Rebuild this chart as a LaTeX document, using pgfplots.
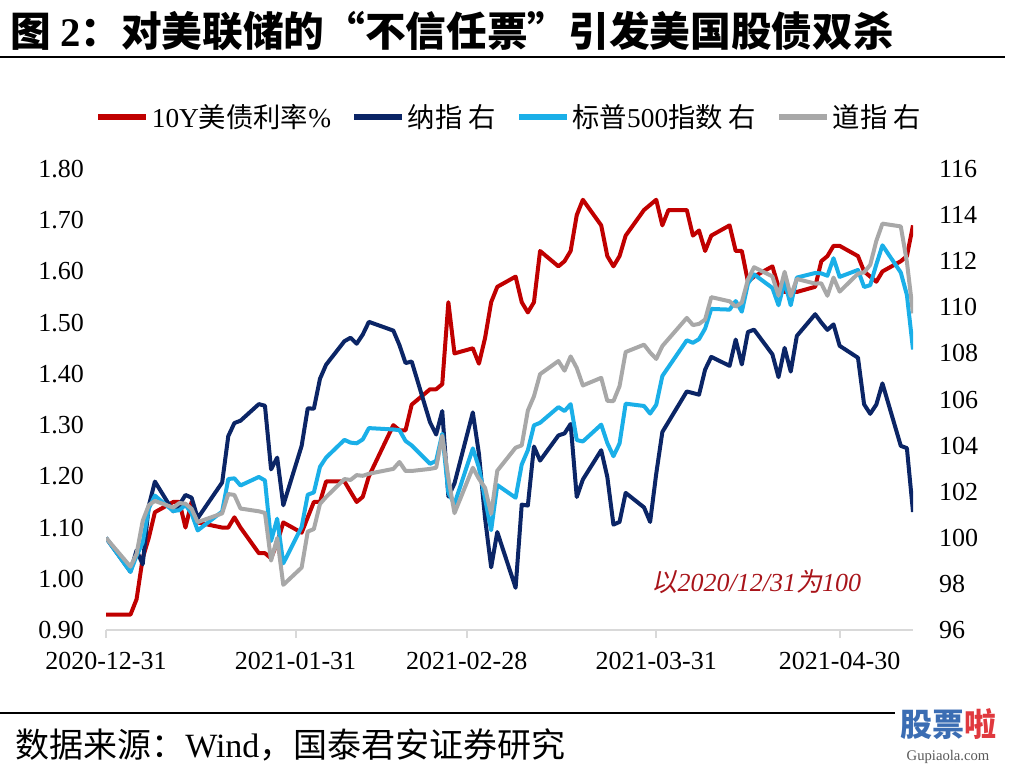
\documentclass[border=0pt]{standalone}
\usepackage{pgfplots}
\pgfplotsset{compat=1.18}
\usepackage{pgfplotstable}
\usepackage{fontspec}
\setmainfont{Liberation Serif}
\newfontfamily\cjk{Noto Sans CJK SC}
\newfontfamily\cjksl{Noto Sans CJK SC}[FakeSlant=0.2]
\definecolor{cRed}{HTML}{C00000}
\definecolor{cNavy}{HTML}{0B2566}
\definecolor{cBlue}{HTML}{1AAFE8}
\definecolor{cGray}{HTML}{A8A8A8}
\definecolor{cAxis}{HTML}{D9D9D9}
\definecolor{cNote}{HTML}{A8141A}

% day offset from 2020-12-31
\pgfplotstableread{
d v
0 0.93
4 0.93
5 0.96
6 1.04
7 1.08
8 1.13
11 1.15
12 1.15
13 1.10
14 1.15
15 1.11
19 1.10
20 1.10
21 1.12
22 1.10
25 1.05
26 1.05
27 1.04
28 1.07
29 1.11
32 1.09
33 1.12
34 1.15
35 1.15
36 1.19
39 1.19
40 1.17
41 1.15
42 1.16
43 1.20
47 1.30
48 1.29
49 1.29
50 1.34
53 1.37
54 1.37
55 1.38
56 1.54
57 1.44
60 1.45
61 1.42
62 1.47
63 1.54
64 1.57
67 1.59
68 1.54
69 1.52
70 1.54
71 1.64
74 1.61
75 1.62
76 1.64
77 1.71
78 1.74
81 1.69
82 1.63
83 1.61
84 1.63
85 1.67
88 1.72
89 1.73
90 1.74
91 1.69
92 1.72
95 1.72
96 1.67
97 1.68
98 1.64
99 1.67
102 1.69
103 1.64
104 1.64
105 1.58
106 1.59
109 1.61
110 1.57
111 1.56
112 1.56
113 1.56
116 1.57
117 1.62
118 1.63
119 1.65
120 1.65
123 1.63
124 1.60
125 1.59
126 1.58
127 1.60
130 1.62
131 1.63
132 1.69
}\tenY

\pgfplotstableread{
d v
0 100
4 98.53
5 99.46
6 98.85
7 101.39
8 102.44
11 101.15
12 101.43
13 101.86
14 101.74
15 100.85
19 102.40
20 104.41
21 104.98
22 105.08
25 105.80
26 105.73
27 102.97
28 103.48
29 101.41
32 103.99
33 105.62
34 105.60
35 106.90
36 107.51
39 108.53
40 108.68
41 108.42
42 108.82
43 109.37
47 108.99
48 108.36
49 107.58
50 107.65
53 105.01
54 104.48
55 105.50
56 101.79
57 102.36
60 105.44
61 103.65
62 100.85
63 98.72
64 100.25
67 97.83
68 101.44
69 101.40
70 103.96
71 103.35
74 104.44
75 104.53
76 104.94
77 101.77
78 102.53
81 103.80
82 102.64
83 100.57
84 100.69
85 101.95
88 101.32
89 100.69
90 102.78
91 104.59
95 106.35
96 106.28
97 106.21
98 107.30
99 107.85
102 107.46
103 108.60
104 107.52
105 108.93
106 109.03
109 107.96
110 106.97
111 108.24
112 107.21
113 108.76
116 109.70
117 109.34
118 109.02
119 109.26
120 108.33
123 107.81
124 105.79
125 105.38
126 105.78
127 106.70
130 103.99
131 103.89
132 101.12
}\nasdaq

\pgfplotstableread{
d v
0 100
4 98.52
5 99.22
6 99.79
7 101.27
8 101.83
11 101.16
12 101.20
13 101.43
14 101.05
15 100.32
19 101.14
20 102.55
21 102.58
22 102.27
25 102.64
26 102.49
27 99.86
28 100.83
29 98.89
32 100.47
33 101.87
34 101.97
35 103.08
36 103.48
39 104.25
40 104.13
41 104.10
42 104.27
43 104.76
47 104.70
48 104.67
49 104.20
50 104.01
53 103.21
54 103.34
55 104.51
56 101.95
57 101.47
60 103.88
61 103.04
62 101.69
63 100.33
64 102.29
67 101.74
68 103.18
69 103.80
70 104.88
71 104.99
74 105.67
75 105.50
76 105.80
77 104.24
78 104.18
81 104.91
82 104.11
83 103.54
84 104.09
85 105.82
88 105.72
89 105.39
90 105.77
91 107.02
95 108.57
96 108.46
97 108.62
98 109.08
99 109.93
102 109.90
103 110.27
104 109.81
105 111.03
106 111.43
109 110.84
110 110.09
111 111.11
112 110.09
113 111.29
116 111.49
117 111.47
118 111.37
119 112.13
120 111.32
123 111.62
124 110.88
125 110.96
126 111.86
127 112.69
130 111.51
131 110.54
132 108.17
}\spx

\pgfplotstableread{
d v
0 100
4 98.75
5 99.30
6 100.73
7 101.42
8 101.60
11 101.31
12 101.51
13 101.48
14 101.26
15 100.68
19 101.06
20 101.90
21 101.86
22 101.27
25 101.15
26 101.08
27 99.01
28 99.99
29 97.96
32 98.71
33 100.27
34 100.38
35 101.47
36 101.77
39 102.55
40 102.51
41 102.72
42 102.69
43 102.78
47 102.99
48 103.29
49 102.90
50 102.90
53 102.99
54 103.04
55 104.43
56 102.60
57 101.07
60 103.04
61 102.56
62 102.17
63 101.04
64 102.91
67 103.91
68 104.01
69 105.52
70 106.14
71 107.10
74 107.67
75 107.25
76 107.87
77 107.37
78 106.61
81 106.94
82 105.94
83 105.93
84 106.58
85 108.06
88 108.38
89 108.04
90 107.76
91 108.32
95 109.54
96 109.23
97 109.28
98 109.47
99 110.44
102 110.26
103 110.03
104 110.21
105 111.21
106 111.74
109 111.34
110 110.51
111 111.54
112 110.49
113 111.23
116 111.03
117 111.04
118 110.50
119 111.29
120 110.68
123 111.46
124 111.52
125 111.84
126 112.88
127 113.63
130 113.51
131 111.97
132 109.74
}\dow

\pgfplotsset{
  common/.style={
    at={(79.5pt,-472.5pt)}, anchor=south west,
    scale only axis, width=605.25pt, height=345.75pt,
    xmin=0, xmax=132,
    tick label style={font=\fontsize{19.5pt}{21pt}\selectfont},
    /pgf/number format/assume math mode=true,
    tick align=outside, major tick length=6pt,
    every axis plot/.append style={line width=3pt, line join=round, no markers},
  },
}

\begin{document}
\begin{tikzpicture}
\path[use as bounding box] (0,0) rectangle (759.75pt,-576.75pt);

% title
\node[anchor=west, inner sep=0pt] at (7.5pt,-23.5pt)
  {\fontsize{30.5pt}{32pt}\selectfont\cjk\bfseries 图 {\rmfamily\bfseries 2}：对美联储的“不信任票”引发美国股债双杀};
\draw[line width=2pt] (0pt,-42.75pt) -- (753.75pt,-42.75pt);

\begin{axis}[common,
  ymin=0.9, ymax=1.8,
  axis x line*=bottom, axis y line*=left,
  x axis line style={draw=cAxis, line width=1.5pt, -},
  y axis line style={draw=none},
  xtick={0,31,59,90,120},
  xticklabels={2020-12-31,2021-01-31,2021-02-28,2021-03-31,2021-04-30},
  x tick style={draw=cAxis, line width=1.5pt},
  xticklabel style={yshift=-7pt},
  ytick={0.9,1.0,1.1,1.2,1.3,1.4,1.5,1.6,1.7,1.8},
  y tick style={draw=none},
  yticklabel style={/pgf/number format/.cd, fixed, fixed zerofill, precision=2, /tikz/.cd, xshift=-7pt},
]
\addplot[cRed] table[x=d, y=v] {\tenY};
\end{axis}

\begin{axis}[common,
  ymin=96, ymax=116,
  axis x line=none, axis y line*=right,
  y axis line style={draw=none},
  ytick={96,98,100,102,104,106,108,110,112,114,116},
  y tick style={draw=none},
  yticklabel style={xshift=10pt},
  legend style={at={(0.5,1)}, anchor=center, yshift=39pt, draw=none, fill=none,
    font=\fontsize{20.5pt}{22pt}\selectfont,
    /tikz/every even column/.append style={column sep=13pt}},
  legend columns=-1,
  legend image code/.code={\draw[#1, line width=4.5pt] (0pt,0pt) -- (36pt,0pt);},
]
\addlegendimage{cRed, line width=3pt}
\addlegendentry{10Y{\cjk 美债利率}\%}
\addplot[cNavy] table[x=d, y=v] {\nasdaq};
\addlegendentry{{\cjk 纳指 右}}
\addplot[cBlue] table[x=d, y=v] {\spx};
\addlegendentry{{\cjk 标普}500{\cjk 指数 右}}
\addplot[cGray] table[x=d, y=v] {\dow};
\addlegendentry{{\cjk 道指 右}}
\node[anchor=west, inner sep=0pt, text=cNote, font=\fontsize{19.5pt}{21pt}\selectfont]
  at (axis cs:89.2,98.08) {{\cjksl 以}{\itshape 2020/12/31}{\cjksl 为}{\itshape 100}};
\end{axis}

% footer
\draw[line width=2pt] (0pt,-534.75pt) -- (671.25pt,-534.75pt);
\node[anchor=west, inner sep=0pt] at (11.25pt,-559pt)
  {\fontsize{25.5pt}{27pt}\selectfont{\cjk 数据来源：}Wind{\cjk ，国泰君安证券研究}};
\node[inner sep=0pt] at (711pt,-543pt)
  {\fontsize{24pt}{26pt}\selectfont\cjk\bfseries\textcolor[HTML]{3B6DB3}{股票}\textcolor[HTML]{E0393E}{啦}};
\node[inner sep=0pt, text=black!65] at (711pt,-568pt)
  {\fontsize{11pt}{12pt}\selectfont Gupiaola.com};
\end{tikzpicture}
\end{document}
